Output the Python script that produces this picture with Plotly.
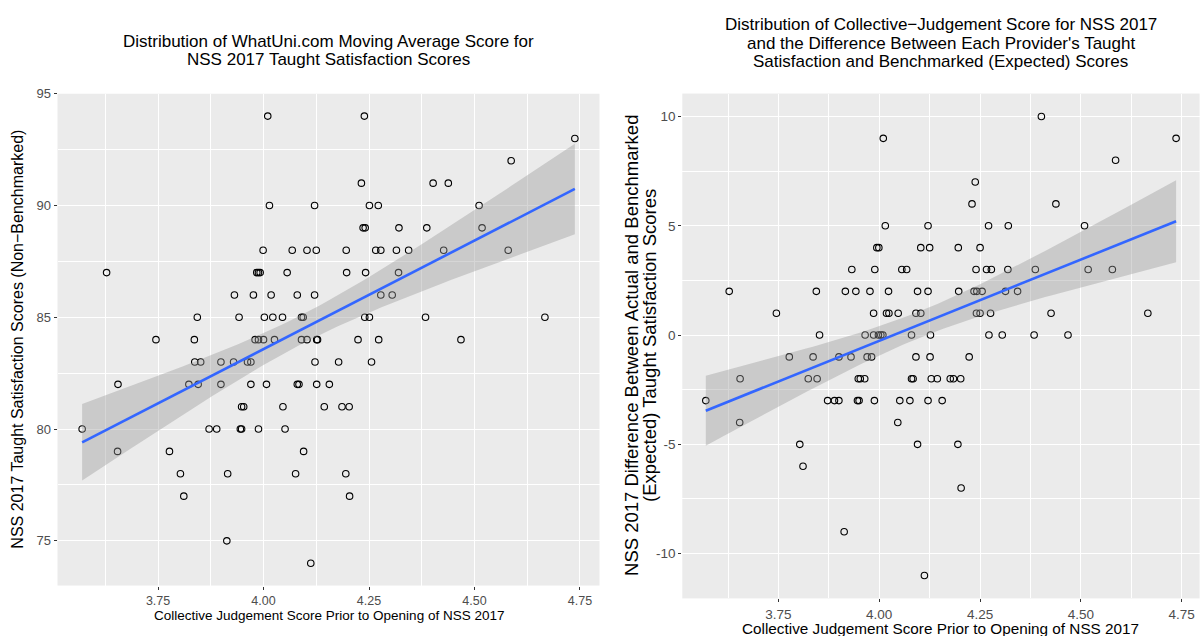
import numpy as np
import plotly.graph_objects as go

# ---------------- data ----------------
# Left panel: collective judgement score (x) vs NSS 2017 taught satisfaction (y)
left_x = [
    4.010, 4.239,
    4.738,
    4.587,
    4.232, 4.402, 4.438,
    4.014, 4.121, 4.251, 4.272, 4.511,
    4.236, 4.241, 4.321, 4.387, 4.518,
    3.999, 4.068, 4.103, 4.125, 4.196, 4.266, 4.278, 4.315, 4.344, 4.427, 4.580,
    3.628, 3.984, 3.988, 3.992, 4.056, 4.197, 4.242, 4.320,
    3.931, 3.976, 4.018, 4.080, 4.121, 4.278, 4.305,
    3.843, 3.942, 4.002, 4.022, 4.045, 4.090, 4.094, 4.240, 4.251, 4.384, 4.667,
    3.745, 3.836, 3.980, 3.988, 4.000, 4.026, 4.090, 4.103, 4.126, 4.128, 4.224, 4.273, 4.468,
    3.837, 3.851, 3.899, 3.929, 3.962, 3.970, 4.122, 4.178, 4.256,
    3.655, 3.823, 3.845, 3.899, 3.970, 4.007, 4.080, 4.084, 4.126, 4.156,
    3.948, 3.953, 4.046, 4.144, 4.186, 4.203,
    3.570, 3.871, 3.889, 3.945, 3.948, 3.988, 4.051,
    3.654, 3.777, 4.095,
    3.803, 3.915, 4.076, 4.195,
    3.811, 4.204,
    3.913,
    4.112,
]
left_y = [
    94, 94,
    93,
    92,
    91, 91, 91,
    90, 90, 90, 90, 90,
    89, 89, 89, 89, 89,
    88, 88, 88, 88, 88, 88, 88, 88, 88, 88, 88,
    87, 87, 87, 87, 87, 87, 87, 87,
    86, 86, 86, 86, 86, 86, 86,
    85, 85, 85, 85, 85, 85, 85, 85, 85, 85, 85,
    84, 84, 84, 84, 84, 84, 84, 84, 84, 84, 84, 84, 84,
    83, 83, 83, 83, 83, 83, 83, 83, 83,
    82, 82, 82, 82, 82, 82, 82, 82, 82, 82,
    81, 81, 81, 81, 81, 81,
    80, 80, 80, 80, 80, 80, 80,
    79, 79, 79,
    78, 78, 78, 78,
    77, 77,
    75,
    74,
]

# Right panel: collective judgement score (x) vs actual minus benchmark (y)
right_x = [
    4.402,
    4.010, 4.736,
    4.586,
    4.238,
    4.230, 4.438,
    4.015, 4.121, 4.271, 4.320, 4.509,
    3.994, 3.999, 4.103, 4.125, 4.196, 4.250,
    3.932, 3.989, 4.056, 4.068, 4.240, 4.266, 4.278, 4.319, 4.387, 4.518, 4.578,
    3.628, 3.844, 3.916, 3.942, 3.977, 4.023, 4.095, 4.121, 4.197, 4.235, 4.242, 4.255, 4.313, 4.343,
    3.745, 3.986, 4.018, 4.024, 4.047, 4.091, 4.103, 4.241, 4.250, 4.276, 4.426, 4.666,
    3.852, 3.965, 3.986, 3.998, 4.004, 4.009, 4.080, 4.127, 4.272, 4.305, 4.384, 4.468,
    3.777, 3.836, 3.900, 3.930, 3.970, 3.981, 4.091, 4.126, 4.223,
    3.655, 3.824, 3.846, 3.948, 3.953, 3.964, 4.080, 4.084, 4.129, 4.144, 4.176, 4.184, 4.202,
    3.570, 3.872, 3.889, 3.900, 3.946, 3.950, 3.988, 4.051, 4.076, 4.121, 4.156,
    3.654, 4.046,
    3.803, 4.095, 4.195,
    3.811,
    4.203,
    3.913,
    4.112,
]
right_y = [
    10,
    9, 9,
    8,
    7,
    6, 6,
    5, 5, 5, 5, 5,
    4, 4, 4, 4, 4, 4,
    3, 3, 3, 3, 3, 3, 3, 3, 3, 3, 3,
    2, 2, 2, 2, 2, 2, 2, 2, 2, 2, 2, 2, 2, 2,
    1, 1, 1, 1, 1, 1, 1, 1, 1, 1, 1, 1,
    0, 0, 0, 0, 0, 0, 0, 0, 0, 0, 0, 0,
    -1, -1, -1, -1, -1, -1, -1, -1, -1,
    -2, -2, -2, -2, -2, -2, -2, -2, -2, -2, -2, -2, -2,
    -3, -3, -3, -3, -3, -3, -3, -3, -3, -3, -3,
    -4, -4,
    -5, -5, -5,
    -6,
    -7,
    -9,
    -11,
]

x_tick_vals = [3.75, 4.00, 4.25, 4.50, 4.75]
x_tick_text = ["3.75", "4.00", "4.25", "4.50", "4.75"]
left_y_ticks = [75, 80, 85, 90, 95]
right_y_ticks = [-10, -5, 0, 5, 10]
right_y_text = ["-10", "-5", "0", "5", "10"]

title_left_lines = ["Distribution of WhatUni.com Moving Average Score for",
                    "NSS 2017 Taught Satisfaction Scores"]
title_right_lines = ["Distribution of Collective\u2212Judgement Score for NSS 2017",
                     "and the Difference Between Each Provider's Taught",
                     "Satisfaction and Benchmarked (Expected) Scores"]
xlabel = "Collective Judgement Score Prior to Opening of NSS 2017"
ylabel_left = "NSS 2017 Taught Satisfaction Scores (Non\u2212Benchmarked)"
ylabel_right_lines = ["NSS 2017 Difference Between Actual and Benchmarked",
                      "(Expected) Taught Satisfaction Scores"]

# ---------------- helpers ----------------
W, H = 1201, 636
FONT = "Liberation Sans, Arial, sans-serif"
PANEL = "#EBEBEB"


def lm_band(x, y, n_grid=80, t=1.982):
    x = np.asarray(x, float)
    y = np.asarray(y, float)
    n = len(x)
    xm, ym = x.mean(), y.mean()
    sxx = ((x - xm) ** 2).sum()
    b1 = ((x - xm) * (y - ym)).sum() / sxx
    b0 = ym - b1 * xm
    resid = y - (b0 + b1 * x)
    s = np.sqrt((resid ** 2).sum() / (n - 2))
    g = np.linspace(x.min(), x.max(), n_grid)
    fit = b0 + b1 * g
    se = s * np.sqrt(1.0 / n + (g - xm) ** 2 / sxx)
    return g, fit, fit - t * se, fit + t * se


def expand(vals, mult=0.05):
    lo, hi = min(vals), max(vals)
    d = (hi - lo) * mult
    return [lo - d, hi + d]


fig = go.Figure()


def add_panel(x, y, xa, ya):
    fig.add_trace(go.Scatter(
        x=x, y=y, mode="markers", xaxis=xa, yaxis=ya, showlegend=False,
        marker=dict(symbol="circle-open", size=6.5, color="black",
                    line=dict(width=1.1, color="black")),
        hoverinfo="skip"))
    g, fit, lo, hi = lm_band(x, y)
    fig.add_trace(go.Scatter(
        x=list(g) + list(g[::-1]), y=list(hi) + list(lo[::-1]),
        mode="lines", fill="toself", fillcolor="rgba(153,153,153,0.4)",
        line=dict(width=0), xaxis=xa, yaxis=ya, showlegend=False,
        hoverinfo="skip"))
    fig.add_trace(go.Scatter(
        x=g, y=fit, mode="lines", line=dict(color="#3366FF", width=2.6),
        xaxis=xa, yaxis=ya, showlegend=False, hoverinfo="skip"))


add_panel(left_x, left_y, "x", "y")
add_panel(right_x, right_y, "x2", "y2")

# panel pixel boxes
L = dict(x0=57.5, x1=599.5, y0=87.7, y1=585.0)
R = dict(x0=682.3, x1=1199.6, y0=87.5, y1=598.0)


def axis_common(size):
    return dict(
        showgrid=True, gridcolor="white", gridwidth=1.4,
        zeroline=False, showline=False,
        ticks="outside", ticklen=3, tickwidth=1, tickcolor="#333333",
        tickfont=dict(family=FONT, size=size, color="#4D4D4D"),
    )


xl = axis_common(12.5)
xl.update(domain=[L["x0"] / W, L["x1"] / W], range=expand(left_x), anchor="y",
          tickvals=x_tick_vals, ticktext=x_tick_text,
          minor=dict(dtick=0.125, tick0=3.625, showgrid=True, gridcolor="white",
                     gridwidth=0.7, ticklen=0))
yl = axis_common(13)
yl.update(domain=[1 - L["y1"] / H, 1 - L["y0"] / H], range=expand(left_y), anchor="x",
          tickvals=left_y_ticks,
          minor=dict(dtick=2.5, tick0=72.5, showgrid=True, gridcolor="white",
                     gridwidth=0.7, ticklen=0))
xr = axis_common(13.5)
xr.update(domain=[R["x0"] / W, R["x1"] / W], range=expand(right_x), anchor="y2",
          tickvals=x_tick_vals, ticktext=x_tick_text,
          minor=dict(dtick=0.125, tick0=3.625, showgrid=True, gridcolor="white",
                     gridwidth=0.7, ticklen=0))
yr = axis_common(13.5)
yr.update(domain=[1 - R["y1"] / H, 1 - R["y0"] / H], range=expand(right_y), anchor="x2",
          tickvals=right_y_ticks, ticktext=right_y_text,
          minor=dict(dtick=2.5, tick0=-12.5, showgrid=True, gridcolor="white",
                     gridwidth=0.7, ticklen=0))

ann = []


def txt(text, xpx, ypx, size, color="black", angle=0):
    ann.append(dict(text=text, x=xpx / W, y=1 - ypx / H, xref="paper", yref="paper",
                    showarrow=False, xanchor="center", yanchor="middle",
                    textangle=angle, align="center",
                    font=dict(family=FONT, size=size, color=color)))


for i, line in enumerate(title_left_lines):
    txt(line, (L["x0"] + L["x1"]) / 2, 35 + 18.5 * i, 17)
for i, line in enumerate(title_right_lines):
    txt(line, (R["x0"] + R["x1"]) / 2, 17.5 + 19 * i, 17)
txt(xlabel, (L["x0"] + L["x1"]) / 2, 615, 13.5)
txt(xlabel, (R["x0"] + R["x1"]) / 2, 628, 15.3)
txt(ylabel_left, 18, (L["y0"] + L["y1"]) / 2, 16, angle=-90)
for i, line in enumerate(ylabel_right_lines):
    txt(line, 632 + 18 * i, (R["y0"] + R["y1"]) / 2, 18.5, angle=-90)

fig.update_layout(
    width=W, height=H, margin=dict(l=0, r=0, t=0, b=0),
    paper_bgcolor="white", plot_bgcolor=PANEL,
    xaxis=xl, yaxis=yl, xaxis2=xr, yaxis2=yr,
    annotations=ann, showlegend=False,
    font=dict(family=FONT),
)

fig.write_html("out.html")
